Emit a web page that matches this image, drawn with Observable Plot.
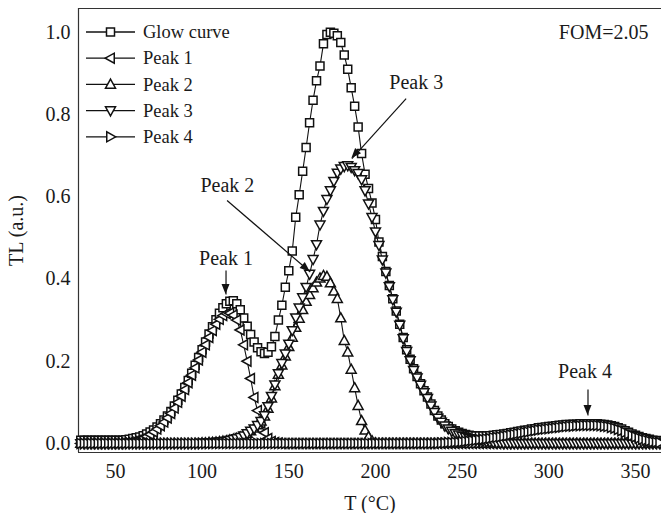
<!DOCTYPE html>
<html><head><meta charset="utf-8">
<script src="https://cdn.jsdelivr.net/npm/d3@7"></script>
<script src="https://cdn.jsdelivr.net/npm/@observablehq/plot@0.6"></script>
<style>
body{margin:0;background:#fff;}
#chart{position:relative;width:661px;height:513px;overflow:hidden;}
#chart svg, #chart svg text{font-family:"Liberation Serif","DejaVu Serif","Noto Serif",Tinos,serif;}
</style></head><body><div id="chart"></div>
<script>
// Temperature grid (°C)
const temps = [30,32,34,36,38,40,42,44,46,48,50,52,54,56,58,60,62,64,66,68,70,72,74,76,78,80,82,84,86,88,90,92,94,96,98,100,102,104,106,108,110,112,114,116,118,120,122,124,126,128,130,132,134,136,138,140,142,144,146,148,150,152,154,156,158,160,162,164,166,168,170,172,174,176,178,180,182,184,186,188,190,192,194,196,198,200,202,204,206,208,210,212,214,216,218,220,222,224,226,228,230,232,234,236,238,240,242,244,246,248,250,252,254,256,258,260,262,264,266,268,270,272,274,276,278,280,282,284,286,288,290,292,294,296,298,300,302,304,306,308,310,312,314,316,318,320,322,324,326,328,330,332,334,336,338,340,342,344,346,348,350,352,354,356,358,360,362,364];

const glowCurve = [
0.008,0.008,0.008,0.008,0.008,0.008,0.008,0.008,0.008,0.008,
0.008,0.008,0.008,0.009,0.010,0.012,0.014,0.016,0.019,0.023,
0.028,0.033,0.040,0.048,0.057,0.067,0.078,0.091,0.105,0.120,
0.136,0.153,0.171,0.190,0.209,0.228,0.247,0.266,0.284,0.301,
0.317,0.330,0.340,0.346,0.347,0.340,0.325,0.305,0.285,0.265,
0.247,0.233,0.223,0.219,0.222,0.235,0.260,0.300,0.336,0.380,
0.420,0.468,0.550,0.605,0.662,0.720,0.780,0.835,0.882,0.918,
0.972,0.995,1.000,0.998,0.992,0.975,0.945,0.910,0.865,0.820,
0.770,0.705,0.655,0.620,0.585,0.545,0.490,0.455,0.418,0.384,
0.352,0.322,0.290,0.258,0.228,0.205,0.182,0.163,0.145,0.128,
0.113,0.096,0.080,0.067,0.057,0.048,0.041,0.035,0.031,0.027,
0.024,0.022,0.020,0.019,0.018,0.018,0.018,0.018,0.019,0.020,
0.021,0.022,0.023,0.024,0.026,0.027,0.029,0.030,0.032,0.033,
0.035,0.036,0.038,0.039,0.040,0.041,0.042,0.043,0.044,0.045,
0.046,0.046,0.047,0.047,0.048,0.048,0.048,0.048,0.048,0.048,
0.047,0.046,0.045,0.043,0.041,0.038,0.035,0.031,0.027,0.023,
0.020,0.017,0.014,0.012,0.010,0.008,0.007,0.006];

const peak1 = [
0,0,0,0,0,0,0,0,0,0,
0,0,0.001,0.002,0.003,0.005,0.007,0.010,0.013,0.017,
0.022,0.028,0.035,0.043,0.052,0.062,0.073,0.086,0.100,0.115,
0.131,0.148,0.166,0.184,0.203,0.222,0.240,0.258,0.275,0.290,
0.302,0.311,0.316,0.317,0.312,0.300,0.276,0.240,0.200,0.158,
0.112,0.080,0.050,0.026,0.012,0.005,0.002,0.001,0,0,
0,0,0,0,0,0,0,0,0,0,
0,0,0,0,0,0,0,0,0,0,
0,0,0,0,0,0,0,0,0,0,
0,0,0,0,0,0,0,0,0,0,
0,0,0,0,0,0,0,0,0,0,
0,0,0,0,0,0,0,0,0,0,
0,0,0,0,0,0,0,0,0,0,
0,0,0,0,0,0,0,0,0,0,
0,0,0,0,0,0,0,0,0,0,
0,0,0,0,0,0,0,0,0,0,
0,0,0,0,0,0,0,0];

const peak2 = [
0,0,0,0,0,0,0,0,0,0,
0,0,0,0,0,0,0,0,0,0,
0,0,0,0,0,0,0,0,0,0,
0,0,0,0,0,0.001,0.001,0.002,0.002,0.003,
0.004,0.005,0.006,0.008,0.010,0.012,0.015,0.019,0.024,0.030,
0.037,0.045,0.054,0.066,0.085,0.110,0.140,0.168,0.190,0.212,
0.235,0.258,0.282,0.304,0.325,0.345,0.362,0.378,0.392,0.402,
0.408,0.406,0.390,0.370,0.352,0.305,0.250,0.222,0.180,0.135,
0.092,0.055,0.032,0.016,0.006,0.001,0,0,0,0,
0,0,0,0,0,0,0,0,0,0,
0,0,0,0,0,0,0,0,0,0,
0,0,0,0,0,0,0,0,0,0,
0,0,0,0,0,0,0,0,0,0,
0,0,0,0,0,0,0,0,0,0,
0,0,0,0,0,0,0,0,0,0,
0,0,0,0,0,0,0,0,0,0,
0,0,0,0,0,0,0,0];

const peak3 = [
0,0,0,0,0,0,0,0,0,0,
0,0,0,0,0,0,0,0,0,0,
0,0,0,0,0,0,0,0,0,0,
0,0,0,0,0,0.001,0.001,0.002,0.002,0.003,
0.004,0.005,0.006,0.008,0.010,0.012,0.015,0.019,0.024,0.030,
0.036,0.044,0.054,0.068,0.090,0.115,0.143,0.170,0.195,0.218,
0.242,0.275,0.306,0.330,0.355,0.380,0.412,0.448,0.484,0.532,
0.565,0.594,0.615,0.638,0.658,0.668,0.674,0.676,0.672,0.664,
0.657,0.642,0.615,0.583,0.550,0.515,0.482,0.447,0.415,0.382,
0.350,0.320,0.288,0.255,0.224,0.202,0.178,0.160,0.142,0.124,
0.110,0.092,0.076,0.062,0.052,0.043,0.036,0.030,0.025,0.021,
0.018,0.015,0.012,0.010,0.008,0.006,0.005,0.004,0.003,0.002,
0.001,0.001,0,0,0,0,0,0,0,0,
0,0,0,0,0,0,0,0,0,0,
0,0,0,0,0,0,0,0,0,0,
0,0,0,0,0,0,0,0,0,0,
0,0,0,0,0,0,0,0];

const peak4 = [
0,0,0,0,0,0,0,0,0,0,
0,0,0,0,0,0,0,0,0,0,
0,0,0,0,0,0,0,0,0,0,
0,0,0,0,0,0,0,0,0,0,
0,0,0,0,0,0,0,0,0,0,
0,0,0,0,0,0,0,0,0,0,
0,0,0,0,0,0,0,0,0,0,
0,0,0,0,0,0,0,0,0,0,
0,0,0,0,0,0,0,0,0,0,
0,0,0,0,0,0,0,0,0,0,
0,0,0,0,0.001,0.001,0.002,0.002,0.003,0.003,
0.004,0.005,0.006,0.007,0.008,0.009,0.010,0.011,0.012,0.014,
0.015,0.016,0.018,0.019,0.021,0.022,0.024,0.025,0.027,0.028,
0.030,0.031,0.033,0.034,0.035,0.036,0.037,0.038,0.039,0.040,
0.041,0.042,0.042,0.043,0.043,0.044,0.044,0.044,0.044,0.044,
0.043,0.042,0.041,0.039,0.037,0.034,0.031,0.027,0.023,0.019,
0.016,0.013,0.010,0.008,0.006,0.004,0.003,0.002];

const seriesNames = ["Glow curve", "Peak 1", "Peak 2", "Peak 3", "Peak 4"];
const seriesValues = [glowCurve, peak1, peak2, peak3, peak4];

const xTicks = [50, 100, 150, 200, 250, 300, 350];
const yTicks = [0.0, 0.2, 0.4, 0.6, 0.8, 1.0];
const xDomain = [28.7, 365];
const yDomain = [-0.022, 1.058];

// Annotations
const annotLabels = ["Peak 1", "Peak 2", "Peak 3", "Peak 4"];
const annotLabelT = [113.8, 114.6, 223.5, 320.9];
const annotLabelV = [0.45, 0.628, 0.878, 0.176];
const arrowFromT = [113.8, 114.4, 217.7, 322.6];
const arrowFromV = [0.421, 0.591, 0.839, 0.131];
const arrowToT = [113.8, 162.4, 186.4, 322.6];
const arrowToV = [0.3625, 0.417, 0.693, 0.068];
const fomText = "FOM=2.05";
const fomT = 357.5, fomV = 1.0;

// Marker symbols
function sym(points) {
  return { draw(ctx, size) {
    const r = Math.sqrt(size / Math.PI);
    points.forEach(([px, py], i) => i ? ctx.lineTo(px * r, py * r) : ctx.moveTo(px * r, py * r));
    ctx.closePath();
  }};
}
const symSquare = sym([[-0.8,-0.8],[0.8,-0.8],[0.8,0.8],[-0.8,0.8]]);
const symUp = sym([[0,-1.05],[1,0.75],[-1,0.75]]);
const symDown = sym([[0,1.05],[1,-0.75],[-1,-0.75]]);
const symLeft = sym([[-1.05,0],[0.75,-1],[0.75,1]]);
const symRight = sym([[1.05,0],[-0.75,-1],[-0.75,1]]);
const seriesSymbols = [symSquare, symLeft, symUp, symDown, symRight];

const ink = "#111";
const serif = "Liberation Serif, DejaVu Serif, Noto Serif, Tinos, serif";

const tables = seriesValues.map((vals, k) => temps.map((t, j) => ({T: t, v: vals[j], s: seriesNames[k]})));
const annots = annotLabels.map((l, i) => ({label: l, lt: annotLabelT[i], lv: annotLabelV[i],
  t1: arrowFromT[i], v1: arrowFromV[i], t2: arrowToT[i], v2: arrowToV[i]}));

const seriesMarks = [];
tables.forEach((tb, k) => {
  seriesMarks.push(Plot.line(tb, {x: "T", y: "v", stroke: ink, strokeWidth: 1.1}));
  seriesMarks.push(Plot.dot(tb, {x: "T", y: "v", symbol: seriesSymbols[k], r: 5, stroke: ink, strokeWidth: 1.5, fill: "white"}));
});

const plot = Plot.plot({
  width: 661,
  height: 513,
  marginLeft: 78,
  marginRight: 0,
  marginTop: 8,
  marginBottom: 61,
  style: {fontFamily: serif, fontSize: "20px", color: "#1a1a1a", background: "white"},
  x: {domain: xDomain},
  y: {domain: yDomain},
  marks: [
    Plot.ruleX([xDomain[0]], {stroke: "#333", strokeWidth: 1.2}),
    Plot.ruleY([yDomain[1]], {stroke: "#333", strokeWidth: 1.2}),
    Plot.ruleY([yDomain[0]], {stroke: "#333", strokeWidth: 1.2}),
    Plot.axisX({ticks: xTicks, tickSize: 0, tickPadding: 11, label: "T (°C)", labelAnchor: "center", labelArrow: "none", labelOffset: 57, fontSize: 20}),
    Plot.axisY({ticks: yTicks, tickSize: 0, tickPadding: 8, tickFormat: d3.format(".1f"), label: "TL (a.u.)", labelAnchor: "center", labelArrow: "none", labelOffset: 70, fontSize: 20}),
    ...seriesMarks,
    Plot.link(annots, {x1: "t1", y1: "v1", x2: "t2", y2: "v2", stroke: ink, strokeWidth: 1.2}),
    Plot.text(annots, {x: "lt", y: "lv", text: "label", fontSize: 20, fill: "#1a1a1a"}),
    Plot.text([fomText], {x: fomT, y: fomV, text: d => d, textAnchor: "end", fontSize: 20, fill: "#1a1a1a"})
  ]
});

document.getElementById("chart").appendChild(plot);

const svg = d3.select(plot);
const sx = plot.scale("x"), sy = plot.scale("y");

// Filled arrowheads at the annotation arrow tips, placed through the plot's scales
const heads = svg.append("g").attr("fill", ink);
annots.forEach(a => {
  const x1 = sx.apply(a.t1), y1 = sy.apply(a.v1), x2 = sx.apply(a.t2), y2 = sy.apply(a.v2);
  const ang = Math.atan2(y2 - y1, x2 - x1) * 180 / Math.PI;
  heads.append("path").attr("d", "M0,0L-10,-4L-10,4Z")
    .attr("transform", `translate(${x2},${y2}) rotate(${ang})`);
});

// Legend (top-left inside the frame)
const lg = svg.append("g").attr("font-family", serif).attr("font-size", 18.5)
  .attr("fill", "#1a1a1a").attr("text-anchor", "start");
seriesNames.forEach((name, i) => {
  const y = 32 + i * 26.2;
  const row = lg.append("g").attr("transform", `translate(0,${y})`);
  row.append("line").attr("x1", 86).attr("x2", 135).attr("y1", 0).attr("y2", 0).attr("stroke", ink).attr("stroke-width", 1.3);
  row.append("path").attr("transform", "translate(110.5,0)")
    .attr("d", d3.symbol(seriesSymbols[i], 25 * Math.PI)())
    .attr("fill", "white").attr("stroke", ink).attr("stroke-width", 1.5);
  row.append("text").attr("x", 143).attr("y", 0).attr("dy", "0.33em").attr("text-anchor", "start").text(name);
});
</script>
</body></html>
